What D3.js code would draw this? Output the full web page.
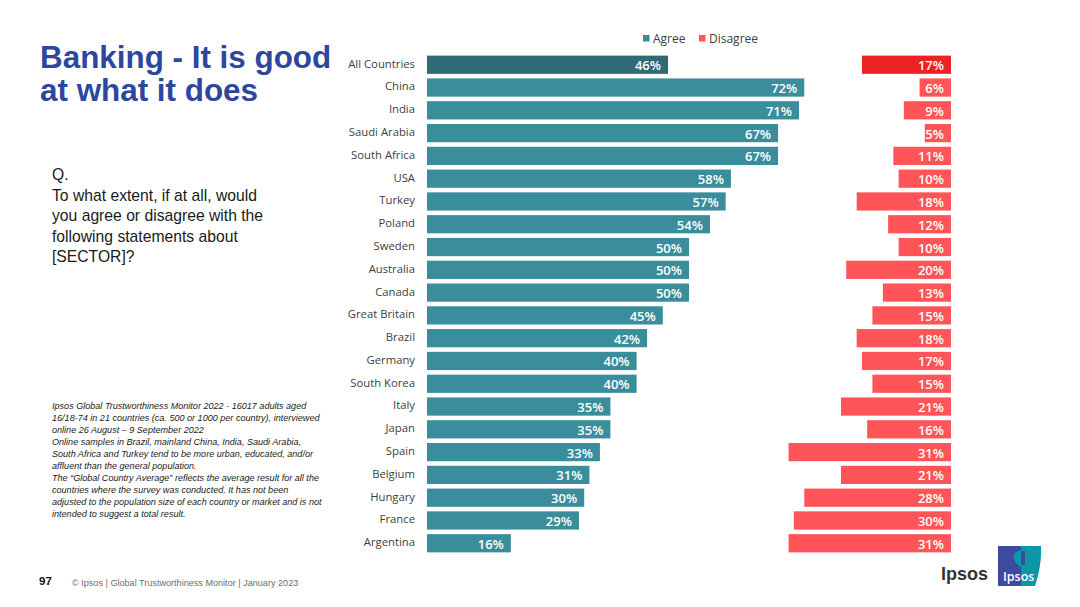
<!DOCTYPE html>
<html>
<head>
<meta charset="utf-8">
<title>Banking - It is good at what it does</title>
<script src="https://cdn.jsdelivr.net/npm/d3@7"></script>
<style>
    html,body{margin:0;padding:0;background:#fff;overflow:hidden;}
    svg text{font-family:"Liberation Sans",Arial,sans-serif;}
    .cat text,.val,.legend text{font-family:"Open Sans",sans-serif !important;}
</style>
</head>
<body>
<div id="chart1"></div>
<script>
var countries = ["All Countries","China","India","Saudi Arabia","South Africa","USA","Turkey","Poland","Sweden","Australia","Canada","Great Britain","Brazil","Germany","South Korea","Italy","Japan","Spain","Belgium","Hungary","France","Argentina"]
var agree = [46,72,71,67,67,58,57,54,50,50,50,45,42,40,40,35,35,33,31,30,29,16]
var disagree = [17,6,9,5,11,10,18,12,10,20,13,15,18,17,15,21,16,31,21,28,30,31]
var legendLabels = ["Agree","Disagree"]
var titleLines = ["Banking - It is good","at what it does"]
var questionLines = ["Q.","To what extent, if at all, would","you agree or disagree with the","following statements about","[SECTOR]?"]
var noteLines = [
    "Ipsos Global Trustworthiness Monitor 2022 - 16017 adults aged",
    "16/18-74 in 21 countries (ca. 500 or 1000 per country), interviewed",
    "online 26 August \u2013 9 September 2022",
    "Online samples in Brazil, mainland China, India, Saudi Arabia,",
    "South Africa and Turkey tend to be more urban, educated, and/or",
    "affluent than the general population.",
    "The \u201cGlobal Country Average\u201d reflects the average result for all the",
    "countries where the survey was conducted. It has not been",
    "adjusted to the population size of each country or market and is not",
    "intended to suggest a total result."
]

var svg = d3.select("#chart1").append("svg").attr("width",1080).attr("height",607)

var y = d3.scaleBand().domain(countries).range([53.8,554.2]).paddingInner(0.2).paddingOuter(0.08)
var xAgree = d3.scaleLinear().domain([0,100]).range([427,951])
var xDisagree = d3.scaleLinear().domain([0,100]).range([951,427])

var teal = "#3a8e9b", tealDark = "#2f6a76", red = "#ff5458", redDark = "#ec2224"

// agree bars
svg.append("g").selectAll("rect").data(countries).enter().append("rect")
    .attr("x",xAgree(0))
    .attr("y",function(d){return y(d)})
    .attr("width",function(d,i){return xAgree(agree[i])-xAgree(0)})
    .attr("height",y.bandwidth())
    .attr("fill",function(d,i){return i==0?tealDark:teal})

// disagree bars
svg.append("g").selectAll("rect").data(countries).enter().append("rect")
    .attr("x",function(d,i){return xDisagree(disagree[i])})
    .attr("y",function(d){return y(d)})
    .attr("width",function(d,i){return xDisagree(0)-xDisagree(disagree[i])})
    .attr("height",y.bandwidth())
    .attr("fill",function(d,i){return i==0?redDark:red})

// value labels
svg.append("g").selectAll("text").data(countries).enter().append("text")
    .attr("class","val")
    .attr("x",function(d,i){return xAgree(agree[i])-7})
    .attr("y",function(d){return y(d)+y.bandwidth()/2+5.5})
    .attr("text-anchor","end").attr("font-size",13).attr("font-weight",600).attr("fill","#fff")
    .text(function(d,i){return agree[i]+"%"})

svg.append("g").selectAll("text").data(countries).enter().append("text")
    .attr("class","val")
    .attr("x",xDisagree(0)-7)
    .attr("y",function(d){return y(d)+y.bandwidth()/2+5.5})
    .attr("text-anchor","end").attr("font-size",13).attr("font-weight",600).attr("fill","#fff")
    .text(function(d,i){return disagree[i]+"%"})

// country labels
var catAxis = svg.append("g").attr("class","cat")
    .attr("transform","translate(415,-0.7)")
    .call(d3.axisLeft(y).tickSize(0).tickPadding(0))
catAxis.select(".domain").remove()
catAxis.selectAll("text").attr("font-size",11.3).attr("fill","#404040")

// legend
var legend = svg.append("g").attr("class","legend")
var legendX = [643,699]
legendLabels.forEach(function(label,i){
    legend.append("rect").attr("x",legendX[i]).attr("y",35).attr("width",6.5).attr("height",6.5)
        .attr("fill",i==0?teal:red)
    legend.append("text").attr("x",legendX[i]+10).attr("y",43).attr("font-size",12).attr("fill","#404040").text(label)
})

// title, question, notes
svg.append("g").selectAll("text").data(titleLines).enter().append("text")
    .attr("x",40).attr("y",function(d,i){return 67.5+i*33})
    .attr("font-size",31.4).attr("font-weight",700).attr("fill","#2d479f").text(function(d){return d})

svg.append("g").selectAll("text").data(questionLines).enter().append("text")
    .attr("x",52).attr("y",function(d,i){return 180+i*20.5})
    .attr("font-size",15.7).attr("fill","#1a1a1a").text(function(d){return d})

svg.append("g").selectAll("text").data(noteLines).enter().append("text")
    .attr("x",52).attr("y",function(d,i){return 409+i*12})
    .attr("font-size",9.07).attr("font-style","italic").attr("fill","#222").text(function(d){return d})

// footer
svg.append("text").attr("x",39).attr("y",585).attr("font-size",11.5).attr("font-weight",700).attr("fill","#111").text("97")
svg.append("text").attr("x",72).attr("y",586).attr("font-size",9.1).attr("fill","#6e6e6e")
    .text("\u00a9 Ipsos | Global Trustworthiness Monitor | January 2023")

// logos
svg.append("text").attr("x",941).attr("y",580).attr("font-size",18).attr("font-weight",700).attr("fill","#333").text("Ipsos")
var logo = svg.append("g")
logo.append("path").attr("d","M998 546H1041Q1042 565 1035 586H998Z").attr("fill","#0a97a6")
logo.append("rect").attr("x",998).attr("y",546).attr("width",23).attr("height",40).attr("fill","#3c4a9f")
logo.append("path").attr("d","M1021 550Q1012 552 1014 560Q1016 564 1021 567Z").attr("fill","#0a97a6")
logo.append("rect").attr("x",1021).attr("y",551).attr("width",4).attr("height",14).attr("fill","#3c4a9f")
logo.append("text").attr("x",1003).attr("y",581).attr("font-size",12.5).attr("font-weight",600).attr("fill","#fff")
    .style("font-family","'Open Sans',sans-serif").text("Ipsos")
</script>
</body>
</html>
